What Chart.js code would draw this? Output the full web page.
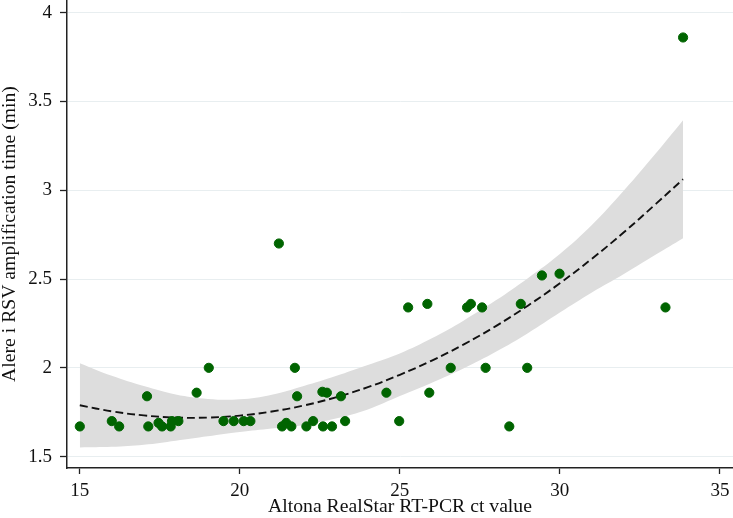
<!DOCTYPE html>
<html>
<head>
<meta charset="utf-8">
<script src="https://cdn.jsdelivr.net/npm/chart.js@4.4.1/dist/chart.umd.min.js"></script>
<style>
  html,body{margin:0;padding:0;background:#fff}
  #wrap{width:733px;height:518px}
</style>
</head>
<body>
<div id="wrap"><canvas id="chart" width="733" height="518"></canvas></div>
<script>
// punktene (ct-verdi, tid i minutter) lest av bildet
const ctVals  = [15.0,16.0,16.23,17.1,17.14,17.46,17.57,17.84,17.88,18.08,18.65,19.03,19.49,19.81,20.12,20.33,
                 21.22,21.32,21.45,21.61,21.72,21.79,22.08,22.29,22.6,22.58,22.72,22.88,23.16,23.29,24.58,24.98,
                 25.26,25.86,25.92,26.59,27.1,27.22,27.57,27.68,28.42,28.78,28.98,29.44,29.99,33.3,33.85];
const timeVals = [1.67,1.70,1.67,1.84,1.67,1.69,1.67,1.67,1.70,1.70,1.86,2.0,1.70,1.70,1.70,1.70,
                  2.70,1.67,1.69,1.67,2.0,1.84,1.67,1.70,1.67,1.865,1.86,1.67,1.84,1.70,1.86,1.70,
                  2.34,2.36,1.86,2.0,2.34,2.36,2.34,2.0,1.67,2.36,2.0,2.52,2.53,2.34,3.86];

// tilpasset kurve og konfidensbånd (lest av bildet)
const fitX     = [15,16,17,18,19,20,21,22,23,24,25,26,27,28,29,30,31,32,33,33.85];
const fitY     = [1.789,1.755,1.732,1.720,1.720,1.731,1.754,1.788,1.834,1.891,1.961,2.041,2.132,2.235,2.350,2.476,2.614,2.763,2.923,3.062];
const bandHigh = [2.026,1.955,1.897,1.850,1.825,1.823,1.849,1.898,1.954,2.016,2.081,2.166,2.267,2.380,2.505,2.641,2.804,2.998,3.208,3.394];
const bandLow  = [1.552,1.555,1.567,1.590,1.615,1.639,1.659,1.678,1.714,1.766,1.841,1.916,1.997,2.090,2.195,2.311,2.424,2.528,2.638,2.730];

// aksene
const xTicks = [15,20,25,30,35];
const yTicks = [1.5,2,2.5,3,3.5,4];
const xTitle = "Altona RealStar RT-PCR ct value";
const yTitle = "Alere i RSV amplification time (min)";

const fnt = {family:"'Liberation Serif','Times New Roman',serif", size:19};
const titleFnt = {family:"'Liberation Serif','Times New Roman',serif", size:19.7};
const pts = (xs,ys)=>xs.map((x,i)=>({x:x,y:ys[i]}));

new Chart(document.getElementById("chart"),{
  type:"scatter",
  data:{
    datasets:[
      {type:"line", data:pts(fitX,bandHigh), borderWidth:0, pointRadius:0, fill:"+1",
       backgroundColor:"#dddddd", tension:0.4, order:3},
      {type:"line", data:pts(fitX,bandLow), borderWidth:0, pointRadius:0, fill:false,
       backgroundColor:"#dddddd", tension:0.4, order:4},
      {type:"line", data:pts(fitX,fitY), borderColor:"#111", borderWidth:1.9, borderDash:[8,4],
       pointRadius:0, fill:false, tension:0.4, order:2},
      {data:pts(ctVals,timeVals), backgroundColor:"#006400", borderColor:"#006400",
       pointRadius:4.6, pointHoverRadius:4.6, order:1}
    ]
  },
  options:{
    responsive:false,
    animation:false,
    layout:{padding:0, autoPadding:false},
    plugins:{legend:{display:false}, tooltip:{enabled:false}},
    scales:{
      x:{
        type:"linear", min:14.6, max:35.41,
        afterBuildTicks:s=>{s.ticks=xTicks.map(v=>({value:v}));},
        afterFit:s=>{s.height=50; s.paddingLeft=0; s.paddingRight=0;},
        grid:{drawOnChartArea:false, tickLength:6, tickColor:"#222", tickWidth:1.3},
        border:{color:"#222", width:1.5},
        ticks:{color:"#111", font:fnt, padding:6, maxRotation:0, autoSkip:false, callback:v=>String(v)},
        title:{display:true, text:xTitle, color:"#111", font:titleFnt, padding:{top:0,bottom:-1}}
      },
      y:{
        type:"linear", min:1.436, max:4.071,
        afterBuildTicks:s=>{s.ticks=yTicks.map(v=>({value:v}));},
        afterFit:s=>{s.width=67; s.paddingTop=0; s.paddingBottom=0;},
        grid:{color:"#e8eef0", lineWidth:1, tickLength:7, tickColor:"#222", tickWidth:1.3},
        border:{color:"#222", width:1.5},
        ticks:{color:"#111", font:fnt, padding:8, autoSkip:false, callback:v=>String(v)},
        title:{display:true, text:yTitle, color:"#111", font:titleFnt, padding:{top:-2,bottom:0}}
      }
    }
  }
});
</script>
</body>
</html>
